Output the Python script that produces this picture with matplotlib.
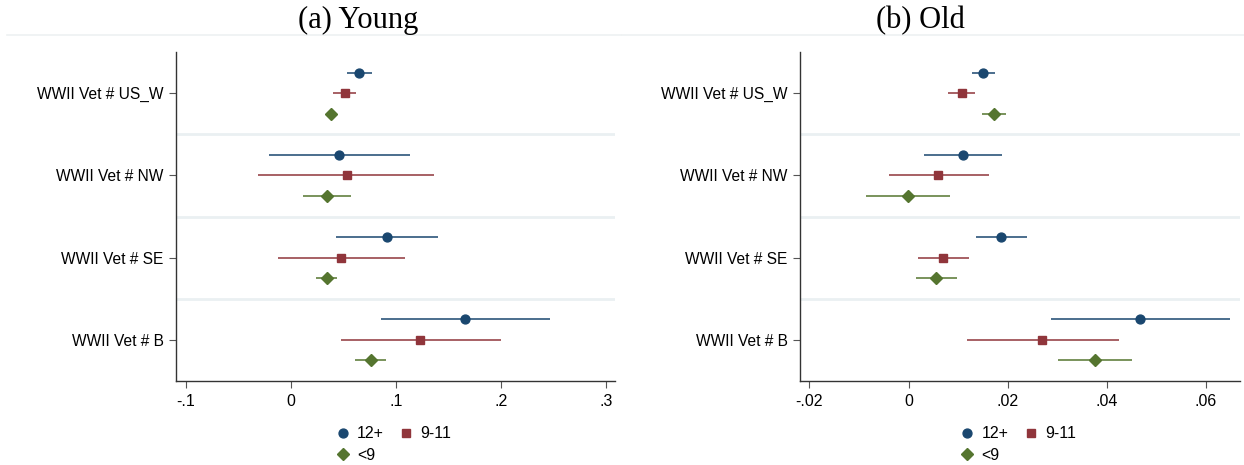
import matplotlib
matplotlib.use('Agg')
import matplotlib.pyplot as plt
from matplotlib.lines import Line2D
import numpy as np

# coefficient plots: WWII veteran interactions by region, three schooling groups
categories = ['WWII Vet # US_W', 'WWII Vet # NW', 'WWII Vet # SE', 'WWII Vet # B']
groups = ['12+', '9-11', '<9']

# panel (a) Young
young_est = {
    '12+':  [0.065, 0.046, 0.091, 0.166],
    '9-11': [0.051, 0.053, 0.048, 0.123],
    '<9':   [0.038, 0.034, 0.034, 0.076],
}
young_lo = {
    '12+':  [0.053, -0.021, 0.043, 0.086],
    '9-11': [0.040, -0.031, -0.012, 0.048],
    '<9':   [0.036, 0.011, 0.024, 0.061],
}
young_hi = {
    '12+':  [0.077, 0.113, 0.140, 0.246],
    '9-11': [0.062, 0.136, 0.108, 0.200],
    '<9':   [0.040, 0.057, 0.044, 0.090],
}

# panel (b) Old
old_est = {
    '12+':  [0.0151, 0.0109, 0.0187, 0.0468],
    '9-11': [0.0107, 0.0060, 0.0070, 0.0270],
    '<9':   [0.0172, -0.0002, 0.0056, 0.0376],
}
old_lo = {
    '12+':  [0.0128, 0.0031, 0.0136, 0.0287],
    '9-11': [0.0079, -0.0040, 0.0020, 0.0119],
    '<9':   [0.0148, -0.0085, 0.0016, 0.0301],
}
old_hi = {
    '12+':  [0.0175, 0.0189, 0.0240, 0.0649],
    '9-11': [0.0135, 0.0163, 0.0123, 0.0424],
    '<9':   [0.0197, 0.0084, 0.0098, 0.0452],
}

colors = {'12+': '#1a476f', '9-11': '#90353b', '<9': '#55752f'}
markers = {'12+': 'o', '9-11': 's', '<9': 'D'}
msizes = {'12+': 6.4, '9-11': 6.4, '<9': 6.0}
offsets = {'12+': -0.25, '9-11': 0.0, '<9': 0.25}

plt.rcParams['font.family'] = ['Liberation Sans', 'DejaVu Sans']

fig = plt.figure(figsize=(12.44, 4.65), dpi=100)
ax1 = fig.add_axes([0.1415, 0.1806, 0.3529, 0.7075])
ax2 = fig.add_axes([0.6431, 0.1806, 0.3537, 0.7075])


def coefplot(ax, est, lo, hi, xlim, xticks, xticklabels):
    pos = np.arange(len(categories))
    for sep in pos[:-1] + 0.5:
        ax.axhline(sep, color='#eaf0f2', lw=2.0, zorder=0)
    for g in groups:
        y = pos + offsets[g]
        ax.hlines(y, lo[g], hi[g], color=colors[g], lw=1.1, zorder=2)
        ax.plot(est[g], y, linestyle='none', marker=markers[g],
                ms=msizes[g], color=colors[g], label=g, zorder=3)
    ax.set_ylim(len(categories) - 0.5, -0.5)
    ax.set_xlim(*xlim)
    ax.set_yticks(pos)
    ax.set_yticklabels(categories, fontsize=11.2)
    ax.set_xticks(xticks)
    ax.set_xticklabels(xticklabels, fontsize=11.5)
    for s in ['top', 'right']:
        ax.spines[s].set_visible(False)
    for s in ['left', 'bottom']:
        ax.spines[s].set_color('#333333')
        ax.spines[s].set_linewidth(1.0)
    ax.tick_params(axis='both', length=5, width=0.8, color='#555555', pad=4)


coefplot(ax1, young_est, young_lo, young_hi, (-0.1094, 0.3083),
         [-0.1, 0, 0.1, 0.2, 0.3], ['-.1', '0', '.1', '.2', '.3'])
coefplot(ax2, old_est, old_lo, old_hi, (-0.0219, 0.0669),
         [-0.02, 0, 0.02, 0.04, 0.06], ['-.02', '0', '.02', '.04', '.06'])

# legends: two columns, row order 12+, 9-11 / <9
for ax, x0 in [(ax1, 0.269), (ax2, 0.771)]:
    h, l = ax.get_legend_handles_labels()
    order = [0, 2, 1]
    ax.legend([h[i] for i in order], [l[i] for i in order], ncol=2,
              loc='upper left', bbox_to_anchor=(x0, 0.083),
              bbox_transform=fig.transFigure, frameon=False, fontsize=11.5,
              handlelength=1.0, handletextpad=0.4, columnspacing=0.9,
              labelspacing=0.4, borderpad=0.0, borderaxespad=0.0)

fig.text(0.288, 0.955, '(a) Young', ha='center', va='center',
         family='Liberation Serif', fontsize=22)
fig.text(0.7395, 0.955, '(b) Old', ha='center', va='center',
         family='Liberation Serif', fontsize=22)
fig.add_artist(Line2D([0.006, 0.499], [0.925, 0.925], color='#eef1f2', lw=1.2))
fig.add_artist(Line2D([0.500, 1.0], [0.925, 0.925], color='#eef1f2', lw=1.2))

fig.savefig('out.png', dpi=100)
